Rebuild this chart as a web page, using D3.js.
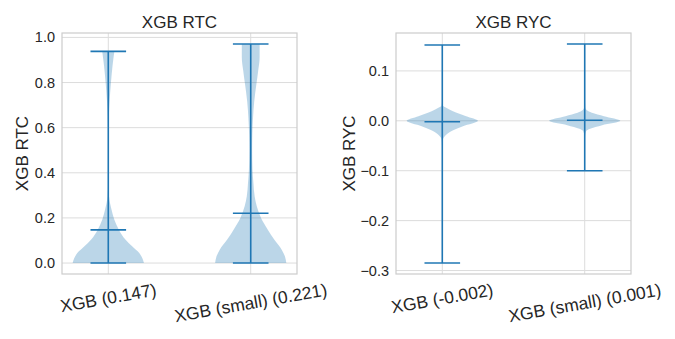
<!DOCTYPE html>
<html>
<head>
<meta charset="utf-8">
<script src="https://cdn.jsdelivr.net/npm/d3@7"></script>
<style>
  body { margin: 0; background: #fff; }
  text { font-family: "Liberation Sans", Arial, sans-serif; fill: #262626; }
</style>
</head>
<body>
<div id="chart"></div>
<script>
// two violin panels, seaborn whitegrid look

// --- data ---
const rtcLabels = ['XGB (0.147)', 'XGB (small) (0.221)'];
const rtcMin = [0, 0];
const rtcMax = [0.938, 0.971];
const rtcMean = [0.147, 0.221];
const rtcTicks = [0, 0.2, 0.4, 0.6, 0.8, 1.0];
// [value, relative half width] along each violin
const rtcDensity = [
  [[0, 1.0], [0.02, 0.96], [0.044, 0.87], [0.074, 0.67], [0.104, 0.48], [0.147, 0.30],
   [0.192, 0.17], [0.237, 0.09], [0.296, 0.02], [0.35, 0.006], [0.45, 0.004], [0.55, 0.006],
   [0.65, 0.015], [0.726, 0.04], [0.8, 0.075], [0.875, 0.12], [0.938, 0.17]],
  [[0, 1.0], [0.03, 0.96], [0.059, 0.87], [0.104, 0.66], [0.148, 0.48], [0.2, 0.29],
   [0.252, 0.17], [0.296, 0.11], [0.355, 0.076], [0.415, 0.05], [0.504, 0.04], [0.57, 0.045],
   [0.644, 0.065], [0.718, 0.10], [0.793, 0.16], [0.852, 0.21], [0.911, 0.25], [0.971, 0.25]]
];

const rycLabels = ['XGB (-0.002)', 'XGB (small) (0.001)'];
const rycMin = [-0.285, -0.1];
const rycMax = [0.152, 0.154];
const rycMean = [-0.002, 0.001];
const rycTicks = [-0.3, -0.2, -0.1, 0.0, 0.1];
const rycDensity = [
  [[-0.285, 0.003], [-0.2, 0.003], [-0.1, 0.004], [-0.05, 0.008], [-0.037, 0.02], [-0.031, 0.07],
   [-0.021, 0.25], [-0.011, 0.58], [0, 1.0], [0.0093, 0.67], [0.019, 0.3], [0.026, 0.11],
   [0.03, 0.02], [0.04, 0.006], [0.1, 0.003], [0.152, 0.003]],
  [[-0.1, 0.003], [-0.05, 0.004], [-0.03, 0.01], [-0.021, 0.04], [-0.016, 0.15], [-0.0087, 0.49],
   [0, 1.0], [0.0093, 0.54], [0.016, 0.2], [0.021, 0.06], [0.027, 0.015], [0.05, 0.004], [0.154, 0.003]]
];

const W = 675, H = 339;
const blue = '#1f77b4';

const svg = d3.select('#chart').append('svg')
  .attr('width', W)
  .attr('height', H);

function drawPanel(p) {
  const g = svg.append('g');
  const x = d3.scaleLinear().domain([0.675, 2.325]).range([p.left, p.right]);
  const lo = d3.min(p.mins), hi = d3.max(p.maxs);
  const pad = (hi - lo) * 0.05;
  const y = d3.scaleLinear().domain([lo - pad, hi + pad]).range([p.bottom, p.top]);

  // grid
  g.selectAll('.hgrid').data(p.ticks).enter().append('line')
    .attr('x1', p.left).attr('x2', p.right)
    .attr('y1', d => y(d)).attr('y2', d => y(d))
    .attr('stroke', '#dcdcdc').attr('stroke-width', 1);
  g.selectAll('.vgrid').data(p.labels).enter().append('line')
    .attr('x1', (d, i) => x(i + 1)).attr('x2', (d, i) => x(i + 1))
    .attr('y1', p.top).attr('y2', p.bottom)
    .attr('stroke', '#dcdcdc').attr('stroke-width', 1);

  // frame
  g.append('rect')
    .attr('x', p.left).attr('y', p.top)
    .attr('width', p.right - p.left).attr('height', p.bottom - p.top)
    .attr('fill', 'none').attr('stroke', '#cccccc').attr('stroke-width', 1.2);

  // violin bodies
  const halfW = x(1.25) - x(1);
  p.density.forEach((dens, i) => {
    const cx = x(i + 1);
    const area = d3.area()
      .curve(d3.curveMonotoneY)
      .y(d => y(d[0]))
      .x0(d => cx - d[1] * halfW)
      .x1(d => cx + d[1] * halfW);
    g.append('path')
      .datum(dens)
      .attr('d', area)
      .attr('fill', blue)
      .attr('fill-opacity', 0.3);
  });

  // stems, caps, means
  const capW = x(1.125) - x(1);
  p.labels.forEach((lab, i) => {
    const cx = x(i + 1);
    g.append('line')
      .attr('x1', cx).attr('x2', cx)
      .attr('y1', y(p.mins[i])).attr('y2', y(p.maxs[i]))
      .attr('stroke', blue).attr('stroke-width', 1.6);
    [p.mins[i], p.maxs[i], p.means[i]].forEach(v => {
      g.append('line')
        .attr('x1', cx - capW).attr('x2', cx + capW)
        .attr('y1', y(v)).attr('y2', y(v))
        .attr('stroke', blue).attr('stroke-width', 1.6);
    });
  });

  // y tick labels
  g.selectAll('.ytick').data(p.ticks).enter().append('text')
    .attr('x', p.left - 7)
    .attr('y', d => y(d))
    .attr('dy', '0.35em')
    .attr('text-anchor', 'end')
    .style('font-size', '14.5px')
    .text(d => d3.format('.1f')(d));

  // x tick labels, rotated 10 degrees
  const ang = 10 * Math.PI / 180;
  p.labels.forEach((lab, i) => {
    const t = g.append('text')
      .attr('text-anchor', 'middle')
      .style('font-size', '17.5px')
      .text(lab);
    const w = t.node().getComputedTextLength();
    const hh = (w / 2) * Math.sin(ang) + 9.5 * Math.cos(ang);
    const cx = x(i + 1), cy = p.bottom + 6 + hh;
    t.attr('x', cx).attr('y', cy)
      .attr('dy', '0.35em')
      .attr('transform', `rotate(-10,${cx},${cy})`);
  });

  // title
  g.append('text')
    .attr('x', (p.left + p.right) / 2)
    .attr('y', 28)
    .attr('text-anchor', 'middle')
    .style('font-size', '17px')
    .text(p.title);

  // y axis label
  g.append('text')
    .attr('transform', `translate(${p.ylabX},${(p.top + p.bottom) / 2}) rotate(-90)`)
    .attr('text-anchor', 'middle')
    .style('font-size', '17px')
    .text(p.ylabel);
}

drawPanel({
  title: 'XGB RTC', ylabel: 'XGB RTC',
  labels: rtcLabels, mins: rtcMin, maxs: rtcMax, means: rtcMean,
  ticks: rtcTicks, density: rtcDensity,
  left: 62, right: 297, top: 33, bottom: 274, ylabX: 28
});

drawPanel({
  title: 'XGB RYC', ylabel: 'XGB RYC',
  labels: rycLabels, mins: rycMin, maxs: rycMax, means: rycMean,
  ticks: rycTicks, density: rycDensity,
  left: 396, right: 631, top: 33, bottom: 274, ylabX: 355
});
</script>
</body>
</html>
